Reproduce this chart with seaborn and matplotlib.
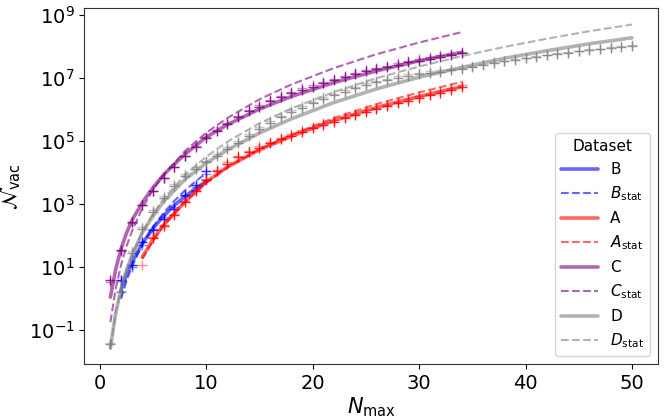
import numpy as np
import pandas as pd
import seaborn as sns
import matplotlib
matplotlib.use("Agg")
import matplotlib.pyplot as plt
import matplotlib.ticker as ticker
from matplotlib.lines import Line2D

# values, stored as log10(N_vac)
# --- fitted curves (solid) and statistical estimates (dashed)
b_fit_n = [2, 2.5, 3, 4, 5, 6, 7, 8, 9, 10]
b_fit_log = [0.27, 0.75, 1.14, 1.75, 2.23, 2.62, 2.96, 3.24, 3.49, 3.72]
b_stat_log = [0.0, 0.55, 1.0, 1.72, 2.27, 2.72, 3.10, 3.43, 3.72, 3.98]

a_fit_n = [4, 5, 6, 8, 10, 12, 15, 18, 22, 26, 30, 34]
a_fit_log = [1.32, 1.88, 2.34, 3.07, 3.70, 4.18, 4.72, 5.15, 5.65, 6.06, 6.41, 6.72]
a_stat_log = [1.26, 1.84, 2.32, 3.07, 3.68, 4.16, 4.74, 5.20, 5.73, 6.17, 6.54, 6.87]

c_fit_n = [1, 1.5, 2, 2.5, 3, 4, 5, 6, 8, 10, 12, 15, 18, 22, 26, 30, 34]
c_fit_log = [0.05, 0.94, 1.58, 2.07, 2.47, 3.05, 3.52, 3.93, 4.58, 5.12, 5.52,
             6.01, 6.41, 6.85, 7.22, 7.54, 7.81]
c_stat_log = [-0.74, 0.32, 1.07, 1.65, 2.12, 2.87, 3.45, 3.93, 4.68, 5.26, 5.73,
              6.32, 6.79, 7.31, 7.75, 8.12, 8.45]

d_fit_n = [1, 1.5, 2, 2.5, 3, 4, 5, 6, 8, 10, 12, 15, 18, 22, 26, 30, 34, 38, 42, 46, 50]
d_fit_log = [-1.56, -0.45, 0.30, 0.90, 1.35, 2.10, 2.62, 3.08, 3.78, 4.30, 4.72,
             5.25, 5.70, 6.22, 6.65, 7.02, 7.33, 7.62, 7.86, 8.08, 8.27]
d_stat_log = [-1.52, -0.44, 0.31, 0.89, 1.36, 2.11, 2.69, 3.17, 3.92, 4.50, 4.98,
              5.56, 6.03, 6.55, 6.99, 7.36, 7.69, 7.98, 8.24, 8.48, 8.69]

# --- counted points (+ markers), dark and light sets
b_pts_n = list(range(2, 11))
b_pts_log = [0.60, 1.08, 1.79, 2.17, 2.52, 2.85, 3.30, 3.59, 4.06]
b_pts_light_log = [0.55, 1.02, 1.70, 2.20, 2.58, 2.92, 3.25, 3.55, 3.95]

a_pts_n = list(range(5, 35))
a_pts_log = [1.93, 2.29, 2.66, 3.06, 3.41, 3.75, 4.04, 4.27, 4.48, 4.64, 4.78,
             4.92, 5.05, 5.17, 5.29, 5.40, 5.51, 5.61, 5.72, 5.82, 5.92, 6.01,
             6.10, 6.19, 6.28, 6.36, 6.45, 6.53, 6.62, 6.71]
a_pts_light_n = list(range(4, 35))
a_pts_light_log = [1.06, 1.96, 2.33, 2.70, 3.10, 3.45, 3.79, 4.08, 4.32, 4.53, 4.69,
                   4.83, 4.97, 5.10, 5.22, 5.34, 5.45, 5.56, 5.66, 5.77, 5.87, 5.97,
                   6.06, 6.15, 6.24, 6.33, 6.41, 6.50, 6.58, 6.67, 6.76]

c_pts_n = list(range(1, 35))
c_pts_log = [0.60, 1.53, 2.43, 2.98, 3.41, 3.83, 4.17, 4.52, 4.82, 5.10, 5.33,
             5.54, 5.75, 5.94, 6.09, 6.26, 6.38, 6.51, 6.63, 6.72, 6.83, 6.93,
             7.02, 7.12, 7.21, 7.28, 7.35, 7.42, 7.49, 7.55, 7.61, 7.67, 7.73, 7.79]
c_pts_light_log = [0.52, 1.50, 2.40, 2.96, 3.40, 3.83, 4.18, 4.53, 4.84, 5.12, 5.36,
                   5.57, 5.78, 5.97, 6.13, 6.29, 6.42, 6.55, 6.67, 6.77, 6.88, 6.98,
                   7.07, 7.16, 7.25, 7.32, 7.39, 7.46, 7.53, 7.59, 7.65, 7.71, 7.76, 7.81]

d_pts_n = list(range(1, 51))
d_pts_log = [-1.45, 0.20, 1.45, 2.20, 2.75, 3.20, 3.58, 3.88, 4.10, 4.32, 4.53,
             4.74, 4.95, 5.17, 5.38, 5.57, 5.75, 5.92, 6.06, 6.20, 6.33, 6.45,
             6.56, 6.67, 6.78, 6.86, 6.93, 7.00, 7.06, 7.11, 7.16, 7.20, 7.24, 7.28,
             7.34, 7.40, 7.46, 7.52, 7.57, 7.62, 7.67, 7.72, 7.76, 7.80, 7.84, 7.88,
             7.92, 7.95, 7.99, 8.02]
d_pts_light_log = [-1.40, 0.25, 1.50, 2.26, 2.81, 3.26, 3.64, 3.94, 4.16, 4.38, 4.59,
                   4.80, 5.01, 5.23, 5.43, 5.62, 5.80, 5.97, 6.11, 6.25, 6.38, 6.50,
                   6.61, 6.72, 6.83, 6.91, 6.98, 7.05, 7.11, 7.16, 7.21, 7.25, 7.29, 7.32,
                   7.37, 7.43, 7.49, 7.54, 7.59, 7.64, 7.69, 7.74, 7.78, 7.82, 7.86, 7.90,
                   7.93, 7.97, 8.00, 8.04]

datasets = ["B", "A", "C", "D"]
colors = {"B": "blue", "A": "red", "C": "purple", "D": "gray"}

fits = {
    "B": (b_fit_n, b_fit_log, b_stat_log),
    "A": (a_fit_n, a_fit_log, a_stat_log),
    "C": (c_fit_n, c_fit_log, c_stat_log),
    "D": (d_fit_n, d_fit_log, d_stat_log),
}
points = {
    "B": (b_pts_n, b_pts_log, b_pts_n, b_pts_light_log),
    "A": (a_pts_n, a_pts_log, a_pts_light_n, a_pts_light_log),
    "C": (c_pts_n, c_pts_log, c_pts_n, c_pts_light_log),
    "D": (d_pts_n, d_pts_log, d_pts_n, d_pts_light_log),
}


def build_frames():
    lines, pts = [], []
    for name in datasets:
        n, fit, stat = fits[name]
        lines.append(pd.DataFrame({"N": n, "Nvac": 10.0 ** np.array(fit),
                                   "dataset": name, "kind": "fit"}))
        lines.append(pd.DataFrame({"N": n, "Nvac": 10.0 ** np.array(stat),
                                   "dataset": name, "kind": "stat"}))
        n1, v1, n2, v2 = points[name]
        pts.append(pd.DataFrame({"N": n1, "Nvac": 10.0 ** np.array(v1),
                                 "dataset": name, "kind": "dark"}))
        pts.append(pd.DataFrame({"N": n2, "Nvac": 10.0 ** np.array(v2),
                                 "dataset": name, "kind": "light"}))
    return pd.concat(lines, ignore_index=True), pd.concat(pts, ignore_index=True)


sns.set_style("ticks", {"text.color": "black", "axes.labelcolor": "black",
                        "xtick.color": "black", "ytick.color": "black",
                        "axes.edgecolor": "#333333"})
plt.rcParams["font.family"] = ["DejaVu Sans"]
plt.rcParams["mathtext.fontset"] = "dejavusans"
plt.rcParams["xtick.major.size"] = 3.5
plt.rcParams["ytick.major.size"] = 3.5

df_lines, df_pts = build_frames()

fig, ax = plt.subplots(figsize=(6.64, 4.19), dpi=100)
fig.subplots_adjust(left=0.127, right=0.991, top=0.980, bottom=0.131)

for name in datasets:
    c = colors[name]
    sub = df_pts[df_pts.dataset == name]
    sns.scatterplot(data=sub[sub.kind == "light"], x="N", y="Nvac", ax=ax,
                    marker="+", s=45, color=c, alpha=0.45, linewidth=1.0, legend=False)
    sns.scatterplot(data=sub[sub.kind == "dark"], x="N", y="Nvac", ax=ax,
                    marker="+", s=45, color=c, alpha=0.85, linewidth=1.0, legend=False)
    sub = df_lines[df_lines.dataset == name]
    sns.lineplot(data=sub[sub.kind == "fit"], x="N", y="Nvac", ax=ax, color=c,
                 lw=2.6, alpha=0.6, estimator=None, sort=False, legend=False)
    sns.lineplot(data=sub[sub.kind == "stat"], x="N", y="Nvac", ax=ax, color=c,
                 lw=1.5, ls="--", alpha=0.6, estimator=None, sort=False, legend=False)

ax.set_yscale("log")
ax.yaxis.set_major_locator(ticker.FixedLocator([10.0 ** k for k in range(-1, 10, 2)]))
ax.yaxis.set_major_formatter(ticker.LogFormatterSciNotation())
ax.yaxis.set_minor_locator(ticker.NullLocator())
ax.set_xticks([0, 10, 20, 30, 40, 50])
ax.tick_params(labelsize=14)
ax.set_xlabel(r"$N_{\rm max}$", fontsize=15, labelpad=2)
ax.set_ylabel(r"$\mathcal{N}_{\rm vac}$", fontsize=15, labelpad=4)

handles = []
for name in datasets:
    handles.append(Line2D([], [], color=colors[name], lw=2.6, alpha=0.6, label=name))
    handles.append(Line2D([], [], color=colors[name], lw=1.5, ls="--", alpha=0.6,
                          label=r"$%s_{\rm stat}$" % name))
ax.legend(handles=handles, title="Dataset", loc="lower right", fontsize=11,
          title_fontsize=11, handlelength=2.4, labelspacing=0.5)

fig.savefig("out.png", dpi=100)
